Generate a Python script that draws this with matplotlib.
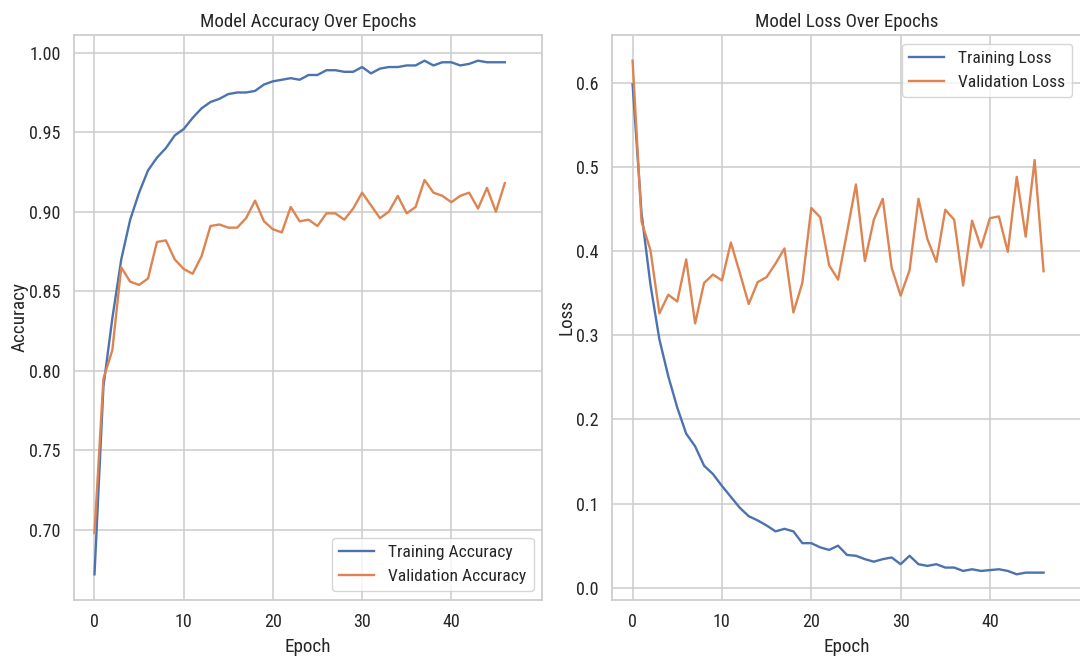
import matplotlib
matplotlib.use("Agg")
import matplotlib.pyplot as plt
from matplotlib import font_manager as fm

# Training history
epochs = list(range(47))

train_acc = [
    0.672, 0.790, 0.833, 0.870, 0.895, 0.912, 0.926, 0.934, 0.940, 0.948,
    0.952, 0.959, 0.965, 0.969, 0.971, 0.974, 0.975, 0.975, 0.976, 0.980,
    0.982, 0.983, 0.984, 0.983, 0.986, 0.986, 0.989, 0.989, 0.988, 0.988,
    0.991, 0.987, 0.990, 0.991, 0.991, 0.992, 0.992, 0.995, 0.992, 0.994,
    0.994, 0.992, 0.993, 0.995, 0.994, 0.994, 0.994,
]
val_acc = [
    0.698, 0.795, 0.813, 0.865, 0.856, 0.854, 0.858, 0.881, 0.882, 0.870,
    0.864, 0.861, 0.872, 0.891, 0.892, 0.890, 0.890, 0.896, 0.907, 0.894,
    0.889, 0.887, 0.903, 0.894, 0.895, 0.891, 0.899, 0.899, 0.895, 0.902,
    0.912, 0.904, 0.896, 0.900, 0.910, 0.899, 0.903, 0.920, 0.912, 0.910,
    0.906, 0.910, 0.912, 0.902, 0.915, 0.900, 0.918,
]
train_loss = [
    0.598, 0.445, 0.360, 0.295, 0.251, 0.214, 0.183, 0.168, 0.145, 0.135,
    0.121, 0.108, 0.095, 0.085, 0.080, 0.074, 0.067, 0.070, 0.067, 0.053,
    0.053, 0.048, 0.045, 0.050, 0.039, 0.038, 0.034, 0.031, 0.034, 0.036,
    0.028, 0.038, 0.028, 0.026, 0.028, 0.024, 0.024, 0.020, 0.022, 0.020,
    0.021, 0.022, 0.020, 0.016, 0.018, 0.018, 0.018,
]
val_loss = [
    0.626, 0.435, 0.401, 0.326, 0.348, 0.340, 0.390, 0.314, 0.362, 0.372,
    0.365, 0.410, 0.374, 0.337, 0.363, 0.369, 0.385, 0.403, 0.327, 0.362,
    0.451, 0.440, 0.383, 0.366, 0.422, 0.479, 0.388, 0.437, 0.462, 0.380,
    0.347, 0.377, 0.462, 0.414, 0.387, 0.449, 0.437, 0.359, 0.436, 0.404,
    0.439, 0.441, 0.399, 0.488, 0.417, 0.508, 0.376,
]

BLUE = "#4C72B0"
ORANGE = "#DD8452"
TEXT = "0.15"


def pick_font():
    """Prefer a condensed sans face, the reference text is narrow."""
    fonts = fm.fontManager.ttflist
    names = {f.name for f in fonts}
    for cand in ("DejaVu Sans Condensed", "Liberation Sans Narrow",
                 "Roboto Condensed", "Open Sans Condensed"):
        if cand in names:
            return cand, "normal"
    for f in fonts:
        if f.name == "DejaVu Sans" and str(f.stretch) in ("condensed", "semi-condensed"):
            return "DejaVu Sans", "condensed"
    return "DejaVu Sans", "normal"


family, stretch = pick_font()
plt.rcParams.update({
    "font.family": [family, "DejaVu Sans"],
    "font.stretch": stretch,
    "text.color": TEXT,
    "axes.labelcolor": TEXT,
    "xtick.color": TEXT,
    "ytick.color": TEXT,
    "axes.edgecolor": "0.8",
    "axes.linewidth": 1.25,
    "grid.color": "0.8",
    "grid.linewidth": 1.1,
    "xtick.major.size": 6,
    "ytick.major.size": 6,
    "xtick.major.pad": 3.5,
    "ytick.major.pad": 3.5,
    "legend.edgecolor": "0.8",
})

fig = plt.figure(figsize=(10.8, 6.64), dpi=100)
ax1 = fig.add_axes([0.0685, 0.0964, 0.4336, 0.8509])
ax2 = fig.add_axes([0.5667, 0.0964, 0.4343, 0.8509])

ax1.plot(epochs, train_acc, color=BLUE, lw=1.7, label="Training Accuracy")
ax1.plot(epochs, val_acc, color=ORANGE, lw=1.7, label="Validation Accuracy")
ax1.set_title("Model Accuracy Over Epochs", fontsize=13.6)
ax1.set_xlabel("Epoch", fontsize=13.8, labelpad=5)
ax1.set_ylabel("Accuracy", fontsize=13.8, labelpad=0.5)
ax1.set_yticks([0.70, 0.75, 0.80, 0.85, 0.90, 0.95, 1.00])
ax1.legend(loc="lower right", fontsize=12.6)

ax2.plot(epochs, train_loss, color=BLUE, lw=1.7, label="Training Loss")
ax2.plot(epochs, val_loss, color=ORANGE, lw=1.7, label="Validation Loss")
ax2.set_title("Model Loss Over Epochs", fontsize=13.6)
ax2.set_xlabel("Epoch", fontsize=13.8, labelpad=5)
ax2.set_ylabel("Loss", fontsize=13.8, labelpad=0.5)
ax2.legend(loc="upper right", fontsize=12.6)

for ax in (ax1, ax2):
    ax.set_facecolor("white")
    ax.grid(True)
    ax.set_axisbelow(True)
    ax.set_xlim(-2.3, 50.2)
    ax.set_xticks([0, 10, 20, 30, 40])
    ax.tick_params(axis="both", labelsize=13, bottom=False, left=False)

fig.savefig("out.png", dpi=100, facecolor="white")
